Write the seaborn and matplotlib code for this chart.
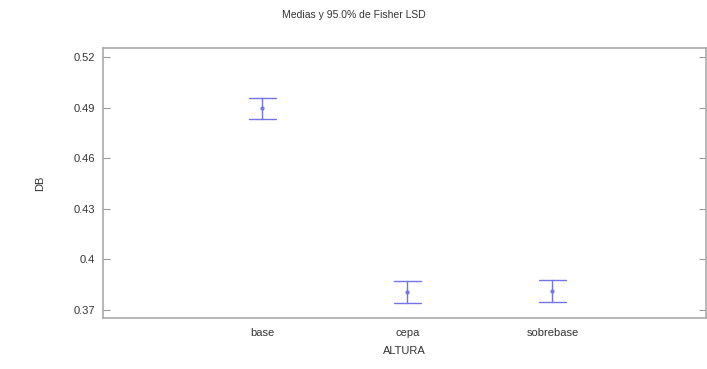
import pandas as pd
import matplotlib.pyplot as plt
import seaborn as sns

# datos
alturas = ["base", "cepa", "sobrebase"]
medias = [0.4897, 0.3805, 0.3815]
semi_lsd = [0.0062, 0.0065, 0.0065]
yticks = [0.37, 0.40, 0.43, 0.46, 0.49, 0.52]
ytick_labels = ["0.37", "0.4", "0.43", "0.46", "0.49", "0.52"]

# cada grupo: limite inferior, media, limite superior
filas = []
for a, m, h in zip(alturas, medias, semi_lsd):
    for v in (m - h, m, m + h):
        filas.append({"ALTURA": a, "DB": v})
df = pd.DataFrame(filas)

sns.set_style("white")
plt.rcParams["font.family"] = ["Liberation Sans", "DejaVu Sans"]

fig = plt.figure(figsize=(7.07, 3.69), dpi=100)
ax = fig.add_axes([0.1457, 0.1382, 0.853, 0.7317])

sns.pointplot(
    data=df, x="ALTURA", y="DB", order=alturas,
    estimator="median", errorbar=lambda x: (x.min(), x.max()),
    linestyle="none", capsize=0.19, color="#7474ea",
    err_kws={"linewidth": 1.0}, markers="o", markersize=1.0, ax=ax,
)

ax.set_xlim(-1.1, 3.06)
ax.set_ylim(0.3653, 0.5253)
ax.set_yticks(yticks)
ax.set_yticklabels(ytick_labels)
ax.tick_params(axis="y", direction="in", length=5, width=0.8, color="#999999",
               labelsize=8, labelcolor="#333333", right=True, left=True, pad=6)
ax.tick_params(axis="x", length=0, labelsize=8, labelcolor="#333333", pad=7)
for s in ax.spines.values():
    s.set_color("#aaaaaa")
    s.set_linewidth(1.2)

ax.set_xlabel("ALTURA", fontsize=8, color="#333333", labelpad=6)
ax.set_ylabel("DB", fontsize=8, color="#333333", labelpad=20)
fig.suptitle("Medias y 95.0% de Fisher LSD", fontsize=7.5, color="#333333", y=0.972)

fig.savefig("out.png", dpi=100)
